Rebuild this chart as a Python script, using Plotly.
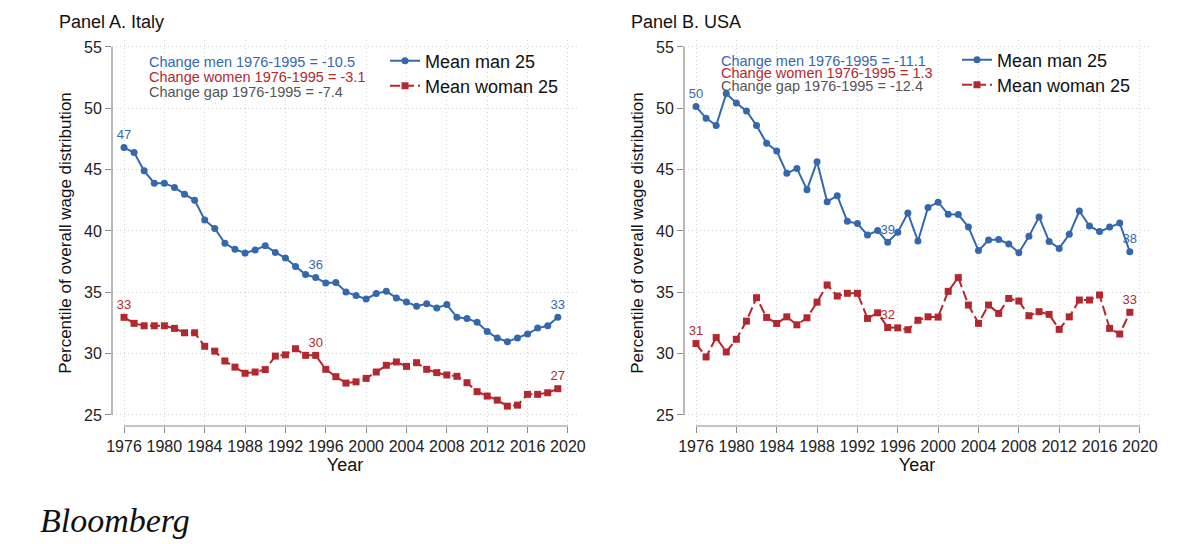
import plotly.graph_objects as go

years = list(range(1976, 2020))

italy_men = [46.8, 46.4, 44.9, 43.9, 43.9, 43.55, 43.0, 42.5, 40.9, 40.2,
             39.0, 38.5, 38.2, 38.45, 38.8, 38.25, 37.8, 37.1, 36.45, 36.2,
             35.76, 35.8, 35.03, 34.73, 34.45, 34.9, 35.08, 34.54, 34.2, 33.86,
             34.07, 33.72, 34.0, 32.96, 32.87, 32.55, 31.8, 31.27, 30.97, 31.27,
             31.6, 32.08, 32.27, 32.96]
italy_women = [32.96, 32.47, 32.27, 32.27, 32.27, 32.06, 31.7, 31.7, 30.6, 30.2,
               29.4, 28.9, 28.4, 28.5, 28.7, 29.8, 29.9, 30.4, 29.86, 29.86,
               28.72, 28.12, 27.6, 27.7, 27.98, 28.5, 29.05, 29.32, 28.96, 29.26,
               28.72, 28.45, 28.26, 28.15, 27.63, 26.9, 26.54, 26.21, 25.72, 25.8,
               26.68, 26.68, 26.81, 27.14]
usa_men = [50.14, 49.2, 48.6, 51.2, 50.44, 49.78, 48.6, 47.15, 46.52, 44.7,
           45.1, 43.37, 45.65, 42.39, 42.88, 40.79, 40.6, 39.67, 40.03, 39.08,
           39.9, 41.46, 39.18, 41.92, 42.35, 41.36, 41.34, 40.33, 38.4, 39.26,
           39.3, 38.94, 38.23, 39.56, 41.14, 39.15, 38.58, 39.73, 41.63, 40.41,
           39.95, 40.33, 40.65, 38.3]
usa_women = [30.82, 29.73, 31.31, 30.14, 31.17, 32.65, 34.56, 32.95, 32.46, 33.0,
             32.35, 32.92, 34.2, 35.6, 34.7, 34.92, 34.92, 32.87, 33.33, 32.13,
             32.1, 31.95, 32.72, 33.0, 32.98, 35.08, 36.2, 33.96, 32.47, 33.96,
             33.28, 34.5, 34.29, 33.09, 33.42, 33.2, 31.98, 33.0, 34.37, 34.37,
             34.78, 32.06, 31.6, 33.37]

italy_notes = ["Change men 1976-1995 = -10.5",
               "Change women 1976-1995 = -3.1",
               "Change gap 1976-1995 = -7.4"]
usa_notes = ["Change men 1976-1995 = -11.1",
             "Change women 1976-1995 = 1.3",
             "Change gap 1976-1995 = -12.4"]

series_names = ["Mean man 25", "Mean woman 25"]
panel_titles = ["Panel A. Italy", "Panel B. USA"]
label_years = [1976, 1995, 2019]
x_ticks = list(range(1976, 2021, 4))
y_ticks = list(range(25, 56, 5))

BLUE = "#3468ad"
RED = "#b2282e"
GRAY = "#555555"
FONT = "Liberation Sans"


def labels(vals):
    return [str(int(round(v))) if y in label_years else "" for y, v in zip(years, vals)]


fig = go.Figure()

panels = [
    (italy_men, italy_women, "x", "y", "legend", "legend3"),
    (usa_men, usa_women, "x2", "y2", "legend2", "legend4"),
]
for men, women, xa, ya, lg_m, lg_w in panels:
    fig.add_trace(go.Scatter(
        x=years, y=men, name=series_names[0], mode="lines+markers+text",
        line=dict(color=BLUE, width=2), marker=dict(symbol="circle", size=7, color=BLUE),
        text=labels(men), textposition="top center",
        textfont=dict(color=BLUE, size=13, family=FONT),
        xaxis=xa, yaxis=ya, legend=lg_m, showlegend=True))
    fig.add_trace(go.Scatter(
        x=years, y=women, name=series_names[1], mode="lines+markers+text",
        line=dict(color=RED, width=2, dash="10px,4px"), marker=dict(symbol="square", size=7, color=RED),
        text=labels(women), textposition="top center",
        textfont=dict(color=RED, size=13, family=FONT),
        xaxis=xa, yaxis=ya, legend=lg_w, showlegend=True))

W, H = 1200, 544
ytop, ybot = 40, 426
ydom = [1 - ybot / H, 1 - ytop / H]
PANEL_SHIFT = 572  # second panel is the same layout shifted right
px_left, px_right = 112, 578
x_range = [1974.81, 2021.0]

axis_common = dict(
    showgrid=True, gridcolor="#d2d2d2", griddash="1px,3px", gridwidth=1,
    zeroline=False, showline=False, ticks="outside", ticklen=6, automargin=False,
    tickcolor="#8a8a8a", tickfont=dict(size=16, color="#222", family=FONT),
)


def leg(px, py):
    return dict(x=px / W, y=1 - py / H, xanchor="left", yanchor="middle",
                font=dict(size=18, color="#111", family=FONT), bgcolor="rgba(0,0,0,0)",
                tracegroupgap=0, itemwidth=30, visible=True)


ytitle = dict(text="Percentile of overall wage distribution", font=dict(size=17), standoff=8)
xtitle = dict(text="Year", font=dict(size=18), standoff=4)

fig.update_layout(
    width=W, height=H, margin=dict(l=0, r=0, t=0, b=0, autoexpand=False),
    paper_bgcolor="white", plot_bgcolor="white", showlegend=True,
    font=dict(family=FONT, color="#111"),
    xaxis=dict(domain=[px_left / W, px_right / W], range=x_range, tickvals=x_ticks,
               anchor="y", title=xtitle, **axis_common),
    yaxis=dict(domain=ydom, range=[24.1, 55.57], tickvals=y_ticks, anchor="x",
               title=ytitle, **axis_common),
    xaxis2=dict(domain=[(px_left + PANEL_SHIFT) / W, (px_right + PANEL_SHIFT) / W], range=x_range,
                tickvals=x_ticks, anchor="y2", title=xtitle, **axis_common),
    yaxis2=dict(domain=ydom, range=[24.1, 55.57], tickvals=y_ticks, anchor="x2",
                title=ytitle, **axis_common),
    legend=leg(385, 61),
    legend3=leg(385, 86),
    legend2=leg(385 + PANEL_SHIFT, 60),
    legend4=leg(385 + PANEL_SHIFT, 85),
)

# detached axis lines (Stata style)
shapes = []
for xa, ya in [("x", "y"), ("x2", "y2")]:
    shapes.append(dict(type="line", xref=f"{xa} domain", yref=ya, x0=0, x1=0,
                       y0=y_ticks[0], y1=y_ticks[-1], line=dict(color="#8a8a8a", width=1.2)))
    shapes.append(dict(type="line", xref=xa, yref=f"{ya} domain", x0=x_ticks[0], x1=x_ticks[-1],
                       y0=0, y1=0, line=dict(color="#8a8a8a", width=1.2)))
fig.update_layout(shapes=shapes)

ann = []
for (px, notes, spacing, y0) in [(147, italy_notes, 15, 62), (147 + PANEL_SHIFT, usa_notes, 12.5, 60.5)]:
    for i, (txt, col) in enumerate(zip(notes, [BLUE, RED, GRAY])):
        ann.append(dict(text=txt, x=px / W, y=1 - (y0 + i * spacing) / H, xref="paper", yref="paper",
                        xanchor="left", yanchor="middle", showarrow=False,
                        font=dict(size=14.5, color=col, family=FONT)))
for px, t in [(57, panel_titles[0]), (57 + PANEL_SHIFT, panel_titles[1])]:
    ann.append(dict(text=t, x=px / W, y=1 - 22 / H, xref="paper", yref="paper",
                    xanchor="left", yanchor="middle", showarrow=False,
                    font=dict(size=18, color="#111", family=FONT)))
ann.append(dict(text="Bloomberg", x=38 / W, y=1 - 520 / H, xref="paper", yref="paper",
                xanchor="left", yanchor="middle", showarrow=False,
                font=dict(size=34, color="#111", family="Liberation Serif", style="italic")))
fig.update_layout(annotations=ann)

fig.write_html("out.html", config={"displayModeBar": False},
               post_script="document.body.style.margin='0';")
